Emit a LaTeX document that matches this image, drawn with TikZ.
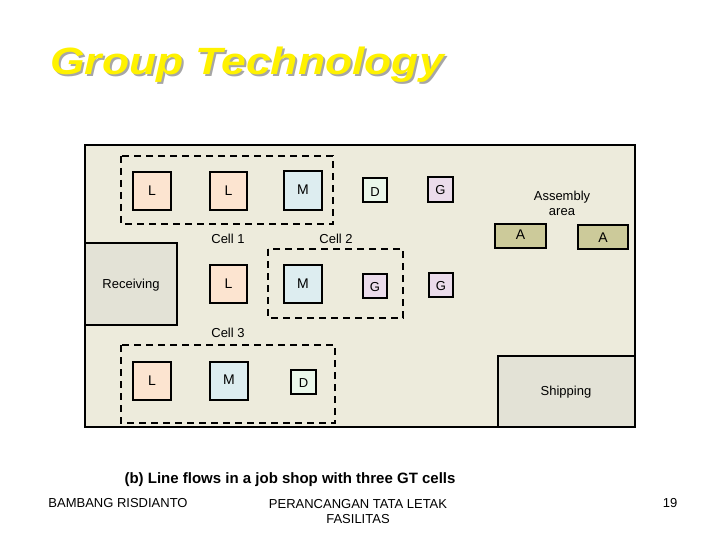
\documentclass[tikz,border=0pt]{standalone}
\usepackage{fontspec}
\setmainfont{Liberation Sans}
\begin{document}
\begin{tikzpicture}[x=1pt,y=-1pt,
  mach/.style={draw=black,line width=2.2pt},
  cell/.style={draw=black,line width=2.2pt,dash pattern=on 7pt off 5pt},
  lbl/.style={font=\fontsize{13}{15}\selectfont},
  ltr/.style={font=\fontsize{14}{16}\selectfont},
  ttl/.style={font=\fontsize{38}{44}\selectfont\bfseries\itshape,xscale=1.17}]
\definecolor{floor}{HTML}{EDEBDC}
\definecolor{lcol}{HTML}{FCE4D0}
\definecolor{mcol}{HTML}{DDEDF0}
\definecolor{dcol}{HTML}{EAF7EA}
\definecolor{gcol}{HTML}{EBDCEB}
\definecolor{acol}{HTML}{CCCA9A}
\definecolor{area}{HTML}{E3E2D6}
\useasboundingbox (0,0) rectangle (720,540);
\fill[white] (0,0) rectangle (720,540);
% title
\node[ttl,text=black!35] (tsh) at (249,67) {Group Technology};
\node[ttl,text=yellow] (title) at (247,65) {Group Technology};
% floor
\draw[line width=2.2pt,fill=floor] (85,145) rectangle (635,427);
\draw[mach,fill=area] (85,243) rectangle (177,325);
\node[lbl] (rec) at (131,285) {Receiving};
\draw[mach,fill=area] (498,356) rectangle (635,427);
\node[lbl] (ship) at (566,392) {Shipping};
% cells
\draw[cell] (121,156) rectangle (333,224);
\draw[cell] (268,249) rectangle (403,318);
\draw[cell] (121,345) rectangle (335,423);
\node[lbl] (c1) at (228,239) {Cell 1};
\node[lbl] (c2) at (336,239) {Cell 2};
\node[lbl] (c3) at (228,333) {Cell 3};
% top row
\draw[mach,fill=lcol] (133,172) rectangle (171,210); \node[ltr] (l1) at (152,191) {L};
\draw[mach,fill=lcol] (210,172) rectangle (247,210); \node[ltr] (l2) at (228.5,191) {L};
\draw[mach,fill=mcol] (284,171) rectangle (322,210); \node[ltr] (m1) at (303,190) {M};
\draw[mach,fill=dcol] (363,178) rectangle (387,202); \node[lbl] (d1) at (375,192) {D};
\draw[mach,fill=gcol] (428,177) rectangle (453,202); \node[lbl] (g1) at (440.5,190) {G};
% middle row
\draw[mach,fill=lcol] (210,265) rectangle (247,303); \node[ltr] (l3) at (228.5,284) {L};
\draw[mach,fill=mcol] (284,265) rectangle (322,303); \node[ltr] (m2) at (303,284) {M};
\draw[mach,fill=gcol] (363,274) rectangle (387,298); \node[lbl] (g2) at (375,287) {G};
\draw[mach,fill=gcol] (429,273) rectangle (453,297); \node[lbl] (g3) at (441,286) {G};
% bottom row
\draw[mach,fill=lcol] (133,362) rectangle (171,400); \node[ltr] (l4) at (152,381) {L};
\draw[mach,fill=mcol] (210,362) rectangle (248,400); \node[ltr] (m3) at (229,380) {M};
\draw[mach,fill=dcol] (291,370) rectangle (316,394); \node[lbl] (d2) at (303.5,383) {D};
% assembly
\node[lbl,align=center] (asm) at (562,203) {Assembly\\area};
\draw[mach,fill=acol] (495,224) rectangle (546,248); \node[ltr] (a1) at (520.5,235) {A};
\draw[mach,fill=acol] (578,225) rectangle (628,249); \node[ltr] (a2) at (603,238) {A};
% caption
\node[font=\fontsize{15}{17}\selectfont\bfseries] (cap) at (290,480) {(b) Line flows in a job shop with three GT cells};
\node[lbl] (f1) at (118,503) {BAMBANG RISDIANTO};
\node[lbl,align=center] (f2) at (358,512) {PERANCANGAN TATA LETAK\\FASILITAS};
\node[lbl] (f3) at (670,503) {19};
\end{tikzpicture}
\end{document}
